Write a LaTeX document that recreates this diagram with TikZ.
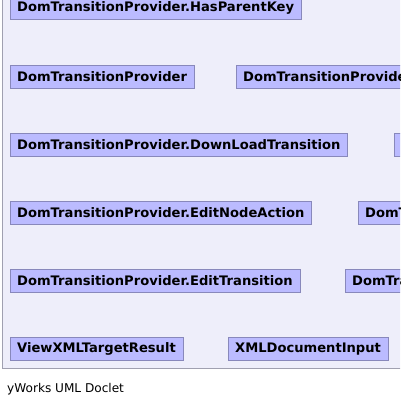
\documentclass[tikz,border=0pt]{standalone}
\usepackage{fontspec}
\setmainfont{DejaVu Sans}
\usepackage{tikz}
\usetikzlibrary{positioning}
\definecolor{panelfill}{HTML}{EEEEFA}
\definecolor{panelline}{HTML}{A0A0B0}
\definecolor{clsfill}{HTML}{BBBBFF}
\definecolor{clsline}{HTML}{8888BB}

\begin{document}
\begin{tikzpicture}[x=1pt,y=1pt,
  cls/.style={draw=clsline,fill=clsfill,anchor=north west,
    font=\bfseries\fontsize{13.1}{15}\selectfont,
    inner xsep=7pt,inner ysep=0pt,minimum height=23pt}]
  \useasboundingbox (0,0) rectangle (400,-406);
  \clip (0,0) rectangle (400,-406);
  % package panel
  \draw[panelline,fill=panelfill] (2.5,5) rectangle (410,-368);
  % classes
  \node[cls] (haspk) at (10,4) {DomTransitionProvider.HasParentKey};
  \node[cls] (prov) at (10,-65) {DomTransitionProvider};
  \node[cls] (provb) at (236,-65) {DomTransitionProvider};
  \node[cls] (download) at (10,-133) {DomTransitionProvider.DownLoadTransition};
  \node[cls] (provc) at (394,-133) {DomTransitionProvider};
  \node[cls] (editnode) at (10,-201) {DomTransitionProvider.EditNodeAction};
  \node[cls] (provd) at (358,-201) {DomTransitionProvider};
  \node[cls] (edittrans) at (10,-269) {DomTransitionProvider.EditTransition};
  \node[cls] (prove) at (345,-269) {DomTransitionProvider};
  \node[cls] (viewxml) at (10,-337) {ViewXMLTargetResult};
  \node[cls] (xmlinput) at (228,-337) {XMLDocumentInput};
  % footer
  \node[anchor=base west,inner sep=0pt,font=\fontsize{12.1}{14}\selectfont] (doclet) at (7,-392) {yWorks UML Doclet};
\end{tikzpicture}
\end{document}
